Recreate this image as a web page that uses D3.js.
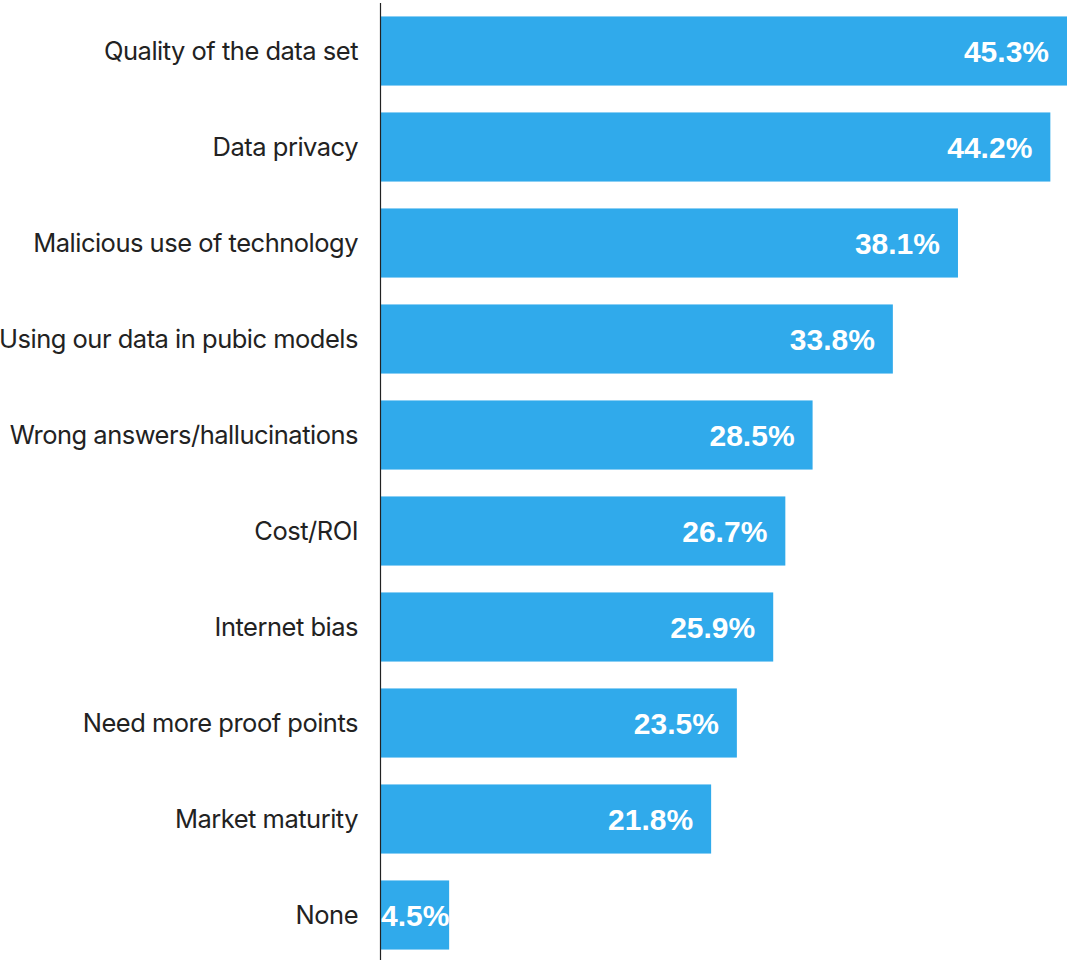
<!DOCTYPE html>
<html>
<head>
<meta charset="utf-8">
<script src="https://cdn.jsdelivr.net/npm/d3@7"></script>
<style>
  html, body { margin: 0; padding: 0; background: #fff; }
  svg { display: block; }
</style>
</head>
<body>
<svg id="chart" width="1067" height="960"></svg>
<script>
// Concerns about generative AI adoption, share of respondents (%)
const categories = [
  "Quality of the data set",
  "Data privacy",
  "Malicious use of technology",
  "Using our data in pubic models",
  "Wrong answers/hallucinations",
  "Cost/ROI",
  "Internet bias",
  "Need more proof points",
  "Market maturity",
  "None"
];
const values = [45.3, 44.2, 38.1, 33.8, 28.5, 26.7, 25.9, 23.5, 21.8, 4.5];

const width = 1067, height = 960;
const x0 = 381;
const svg = d3.select("#chart");

const x = d3.scaleLinear().domain([0, 45.3]).range([x0, 1067]);
const y = d3.scaleBand()
  .domain(categories)
  .range([3, 963])
  .paddingInner(0.28)
  .paddingOuter(0.14);

// Bars
svg.append("g")
  .selectAll("rect")
  .data(values)
  .join("rect")
  .attr("x", x(0))
  .attr("y", (d, i) => y(categories[i]))
  .attr("width", d => x(d) - x(0))
  .attr("height", y.bandwidth())
  .attr("fill", "#30aaeb");

// Vertical baseline
svg.append("line")
  .attr("x1", x0 - 0.5).attr("x2", x0 - 0.5)
  .attr("y1", 3).attr("y2", height)
  .attr("stroke", "#222").attr("stroke-width", 1.2);

// Category labels
svg.append("g")
  .selectAll("text")
  .data(categories)
  .join("text")
  .attr("x", 358)
  .attr("y", d => y(d) + y.bandwidth() / 2)
  .attr("dy", "0.36em")
  .attr("text-anchor", "end")
  .attr("font-family", "Inter, 'Liberation Sans', sans-serif")
  .attr("font-size", 25.5)
  .attr("letter-spacing", "-0.5")
  .attr("fill", "#222")
  .text(d => d);

// Value labels inside bars
const valueLabels = svg.append("g")
  .selectAll("text")
  .data(values)
  .join("text")
  .attr("y", (d, i) => y(categories[i]) + y.bandwidth() / 2)
  .attr("dy", "0.36em")
  .attr("text-anchor", "end")
  .attr("font-family", "'Liberation Sans', Arial, sans-serif")
  .attr("font-weight", "bold")
  .attr("font-size", 30)
  .attr("letter-spacing", "0")
  .attr("fill", "#fff")
  .text(d => d.toFixed(1) + "%");

valueLabels.each(function(d) {
  const w = this.getComputedTextLength();
  const xr = Math.max(x(d) - 18, x0 + w);
  d3.select(this).attr("x", xr);
});
</script>
</body>
</html>
